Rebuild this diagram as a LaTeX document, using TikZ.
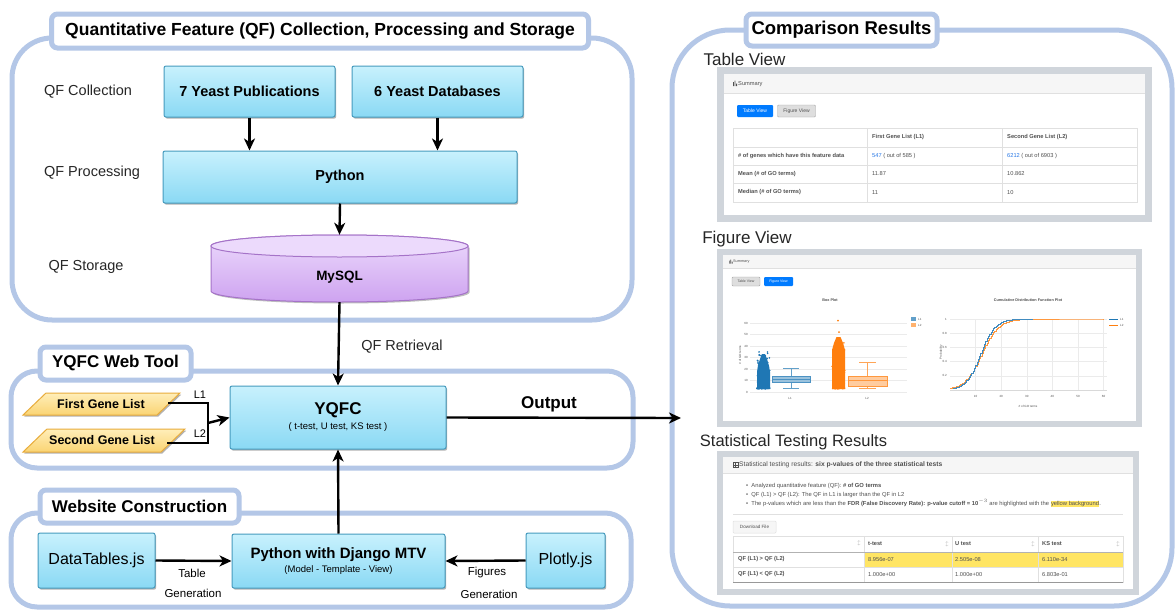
\documentclass[tikz,border=0pt]{standalone}
\usepackage{fontspec}
\setmainfont{Liberation Sans}
\usetikzlibrary{arrows.meta,shadows}
\definecolor{cbord}{RGB}{180,199,231}
\definecolor{bxtop}{RGB}{200,241,253}
\definecolor{bxbot}{RGB}{138,217,244}
\definecolor{bxdraw}{RGB}{70,155,190}
\definecolor{cyltop}{RGB}{236,218,252}
\definecolor{cylbot}{RGB}{206,163,240}
\definecolor{cyldraw}{RGB}{165,115,200}
\definecolor{ortop}{RGB}{255,238,185}
\definecolor{orbot}{RGB}{250,212,115}
\definecolor{ordraw}{RGB}{232,172,60}
\definecolor{shotframe}{RGB}{208,213,219}
\definecolor{shothead}{RGB}{246,246,246}
\definecolor{shotline}{RGB}{224,224,224}
\definecolor{shottext}{RGB}{80,80,80}
\definecolor{btnblue}{RGB}{0,123,255}
\definecolor{btngray}{RGB}{222,222,222}
\definecolor{plblue}{RGB}{31,119,180}
\definecolor{plorange}{RGB}{255,127,14}
\definecolor{hlyellow}{RGB}{255,229,100}
\definecolor{linkblue}{RGB}{40,120,230}
\begin{document}
\begin{tikzpicture}[x=1pt,y=-1pt,
  cont/.style={draw=cbord,line width=5pt},
  ttl/.style={draw=cbord,line width=5pt,fill=white,rounded corners=6pt,inner sep=0pt,font=\bfseries\fontsize{17.5}{20}\selectfont},
  bx/.style={draw=bxdraw,line width=1pt,top color=bxtop,bottom color=bxbot,rounded corners=2pt,inner sep=0pt,
    drop shadow={shadow xshift=1.2pt,shadow yshift=-1.6pt,opacity=0.3,fill=black}},
  lbl/.style={inner sep=0pt,font=\fontsize{14.5}{17}\selectfont,text=black!85},
  arr/.style={line width=2.4pt,-{Stealth[length=12pt,width=11pt,inset=3.5pt]}},
  conn/.style={line width=2.4pt},
  st/.style={inner sep=0pt,anchor=west,text=shottext,font=\fontsize{5.7}{6}\selectfont},
  stb/.style={st,font=\bfseries\fontsize{5.7}{6}\selectfont},
  sp/.style={inner sep=0pt,text=shottext,font=\fontsize{3}{3.5}\selectfont},
  shotttl/.style={inner sep=0pt,font=\fontsize{17}{20}\selectfont,text=black!85}
]
\useasboundingbox (0,0) rectangle (1176,613);
\fill[white] (0,0) rectangle (1176,613);

% ---------------- containers ----------------
\draw[cont,rounded corners=40pt] (12,38) rectangle (632,320);
\draw[cont,rounded corners=26pt] (11,371) rectangle (633,468);
\draw[cont,rounded corners=26pt] (11,513) rectangle (631,607);
\draw[cont,rounded corners=58pt] (672,30) rectangle (1172,606);

\node[ttl,minimum width=537pt,minimum height=34pt] (t1) at (320,31) {Quantitative Feature (QF) Collection, Processing and Storage};
\node[ttl,minimum width=151pt,minimum height=33pt,font=\bfseries\fontsize{17}{20}\selectfont] (t2) at (115.5,363.5) {YQFC Web Tool};
\node[ttl,minimum width=199pt,minimum height=33pt,font=\bfseries\fontsize{17}{20}\selectfont] (t3) at (139.5,506.5) {Website Construction};
\node[ttl,minimum width=191pt,minimum height=32pt,font=\bfseries\fontsize{18.5}{21}\selectfont] (t4) at (841.5,30) {Comparison Results};

% ---------------- top section ----------------
\node[lbl] (lcol) at (88,92) {QF Collection};
\node[lbl] (lpro) at (92,173) {QF Processing};
\node[lbl] (lsto) at (86,267) {QF Storage};

\node[bx,minimum width=171pt,minimum height=51pt,font=\bfseries\fontsize{14.5}{17}\selectfont] (pub) at (249.5,91.5) {7 Yeast Publications};
\node[bx,minimum width=171pt,minimum height=51pt,font=\bfseries\fontsize{14.5}{17}\selectfont] (db) at (437.5,91.5) {6 Yeast Databases};
\node[bx,minimum width=354pt,minimum height=52pt,font=\bfseries\fontsize{14.5}{17}\selectfont] (py) at (340,177) {Python};

% cylinder
\fill[black,opacity=0.25] (212.5,247.5) -- (212.5,292.5) arc[start angle=180,end angle=0,x radius=128.5,y radius=11] -- (469.5,247.5) -- cycle;
\path[draw=cyldraw,line width=1pt,top color=cyltop,bottom color=cylbot] (211,246) -- (211,291) arc[start angle=180,end angle=0,x radius=128.5,y radius=11] -- (468,246) arc[start angle=0,end angle=-180,x radius=128.5,y radius=11] -- cycle;
\draw[draw=cyldraw,line width=1pt,fill=cyltop] (339.5,246) ellipse[x radius=128.5,y radius=11];
\node[inner sep=0pt,minimum width=257pt,minimum height=67pt] (ms) at (339.5,268.5) {};
\node[inner sep=0pt,font=\bfseries\fontsize{13.5}{16}\selectfont] (mst) at (339.5,277) {MySQL};

\draw[arr] (pub.south) -- (pub.south |- py.north);
\draw[arr] (db.south) -- (db.south |- py.north);
\draw[arr] (py.south) -- (ms.north);

% ---------------- web tool ----------------
\node[bx,minimum width=216pt,minimum height=63pt,align=center] (yq) at (338,417.5)
  {{\bfseries\fontsize{17}{20}\selectfont YQFC}\\[3pt]{\fontsize{9.5}{11}\selectfont ( t-test, U test, KS test )}};
\draw[arr] (ms.south) -- (yq.north);
\node[lbl] (qfr) at (402,347) {QF Retrieval};

\draw[draw=ordraw,line width=1pt,top color=ortop,bottom color=orbot,
  drop shadow={shadow xshift=1.2pt,shadow yshift=-1.6pt,opacity=0.3,fill=black}]
  (23,415) -- (46,393) -- (180,393) -- (157,415) -- cycle;
\draw[draw=ordraw,line width=1pt,top color=ortop,bottom color=orbot,
  drop shadow={shadow xshift=1.2pt,shadow yshift=-1.6pt,opacity=0.3,fill=black}]
  (23,452) -- (47,429) -- (185,429) -- (161,452) -- cycle;
\node[inner sep=0pt,font=\bfseries\fontsize{12.5}{15}\selectfont] (fg) at (101,404) {First Gene List};
\node[inner sep=0pt,font=\bfseries\fontsize{12.5}{15}\selectfont] (sg) at (102,440.5) {Second Gene List};
\coordinate (fgR) at (168,403);
\coordinate (sgR) at (167,443);
\coordinate (jn) at (208,423);
\draw[conn,line cap=butt] (fgR) -- (fgR -| jn) -- (sgR -| jn) -- (sgR);
\draw[arr] (jn) -- (yq.west);
\node[inner sep=0pt,font=\fontsize{11}{13}\selectfont] (l1) at (200,395) {L1};
\node[inner sep=0pt,font=\fontsize{11}{13}\selectfont] (l2) at (200,434) {L2};

\coordinate (outend) at (681,418);
\draw[arr] (yq.east) -- (outend);
\node[inner sep=0pt,font=\bfseries\fontsize{17}{20}\selectfont] (outl) at (549,404) {Output};

% ---------------- website construction ----------------
\node[bx,minimum width=117pt,minimum height=55pt,font=\fontsize{16}{19}\selectfont] (dt) at (96.5,560.5) {DataTables.js};
\node[bx,minimum width=213pt,minimum height=54pt,align=center] (dj) at (338.5,561)
  {{\bfseries\fontsize{15}{18}\selectfont Python with Django MTV}\\[2pt]{\fontsize{9.5}{11}\selectfont (Model - Template - View)}};
\node[bx,minimum width=79pt,minimum height=55pt,font=\fontsize{16}{19}\selectfont] (pl) at (565.5,560.5) {Plotly.js};
\draw[arr] (dt.east) -- (dj.west);
\draw[arr] (pl.west) -- (dj.east);
\draw[arr] (dj.north) -- (yq.south);
\node[inner sep=0pt,font=\fontsize{11.5}{14}\selectfont] (tg1) at (192,573) {Table};
\node[inner sep=0pt,font=\fontsize{11.5}{14}\selectfont] (tg2) at (193,593) {Generation};
\node[inner sep=0pt,font=\fontsize{11.5}{14}\selectfont] (fg1) at (487,573) {Figures};
\node[inner sep=0pt,font=\fontsize{11.5}{14}\selectfont] (fg2) at (489,594) {Generation};

% ---------------- Table View screenshot ----------------
\node[shotttl] (tvl) at (744.5,59) {Table View};
\fill[shotframe] (717,67) rectangle (1152,222);
\fill[white] (724,74) rectangle (1145,215);
\fill[shothead] (724,74) rectangle (1145,93);
\draw[shotline,line width=0.5pt] (724,93) -- (1145,93);
\fill[shottext] (733,86) rectangle (733.8,82) (734.6,86) rectangle (735.4,80.5) (736.2,86) rectangle (737,83.5);
\node[st] (sum1) at (738,84) {Summary};
\node[fill=btnblue,text=white,inner sep=0pt,minimum width=36pt,minimum height=12pt,rounded corners=1pt,font=\fontsize{5}{6}\selectfont] (b1) at (755,111) {Table View};
\node[fill=btngray,draw=black!35,line width=0.4pt,text=shottext,inner sep=0pt,minimum width=38pt,minimum height=12pt,rounded corners=1pt,font=\fontsize{5}{6}\selectfont] (b2) at (796.5,111) {Figure View};
\draw[shotline,line width=0.5pt] (733,128) rectangle (1137,202) (733,147) -- (1137,147) (733,165) -- (1137,165) (733,183) -- (1137,183) (867,128) -- (867,202) (1002,128) -- (1002,202);
\node[stb] at (872,137.5) {First Gene List (L1)};
\node[stb] at (1007,137.5) {Second Gene List (L2)};
\node[stb] at (738,156) {\# of genes which have this feature data};
\node[st] at (872,156) {\textcolor{linkblue}{547} ( out of 585 )};
\node[st] at (1007,156) {\textcolor{linkblue}{6212} ( out of 6903 )};
\node[stb] at (738,174) {Mean (\# of GO terms)};
\node[st] at (872,174) {11.87};
\node[st] at (1007,174) {10.862};
\node[stb] at (738,192.5) {Median (\# of GO terms)};
\node[st] at (872,192.5) {11};
\node[st] at (1007,192.5) {10};

% ---------------- Figure View screenshot ----------------
\node[shotttl] (fvl) at (747,239) {Figure View};
\fill[shotframe] (717,249) rectangle (1142,427);
\fill[white] (723,255) rectangle (1136,421);
\fill[shothead] (723,255) rectangle (1136,268);
\draw[shotline,line width=0.5pt] (723,268) -- (1136,268);
\fill[shottext] (729,263.5) rectangle (729.7,260.5) (730.4,263.5) rectangle (731.1,259.5) (731.8,263.5) rectangle (732.5,261.5);
\node[st,font=\fontsize{3.8}{4}\selectfont] at (733,261.5) {Summary};
\node[fill=btngray,draw=black!35,line width=0.4pt,text=shottext,inner sep=0pt,minimum width=28pt,minimum height=9pt,rounded corners=1pt,font=\fontsize{3.5}{4}\selectfont] (b3) at (746,281.5) {Table View};
\node[fill=btnblue,text=white,inner sep=0pt,minimum width=29pt,minimum height=9pt,rounded corners=1pt,font=\fontsize{3.5}{4}\selectfont] (b4) at (778.5,281.5) {Figure View};
\node[sp,font=\bfseries\fontsize{3.8}{4}\selectfont] at (830,300) {Box Plot};
\node[sp,font=\bfseries\fontsize{3.8}{4}\selectfont] at (1028,300) {Cumulative Distribution Function Plot};
% box plot grid
\foreach \v in {0,10,...,60} {
  \draw[black!8,line width=0.4pt] (750,{392-1.15*\v}) -- (907,{392-1.15*\v});
  \node[sp,anchor=east] at (748,{392-1.15*\v}) {\v};
}
\node[sp,rotate=90] at (740,355) {\# of GO terms};
\node[sp] at (790,398) {L1};
\node[sp] at (867,398) {L2};
% L1 scatter
\fill[plblue] (757,389) -- (757,372) -- (758,365) -- (760,359) -- (762,354) -- (765,354) -- (767,359) -- (769,366) -- (770,372) -- (770,389) -- cycle;
\pgfmathsetseed{7}
\foreach \i in {1,...,120} {
  \pgfmathsetmacro\px{757+13*rnd}
  \pgfmathsetmacro\pv{3+32*rnd^3}
  \fill[plblue] (\px,{392-1.15*\pv}) circle[radius=0.9];
}
% L1 box
\draw[plblue!70,line width=0.6pt] (791,388.5) -- (791,381.6) (791,375.9) -- (791,367.9) (783,388.5) -- (799,388.5) (783,367.9) -- (799,367.9);
\draw[plblue!80,fill=plblue!45,line width=0.6pt] (772,382.5) rectangle (810,375.9);
\draw[plblue!80,line width=0.6pt] (772,379.4) -- (810,379.4);
% L2 scatter
\fill[plorange] (832,389) -- (832,350) -- (834,343) -- (836.5,337) -- (840.5,337) -- (843,343) -- (845,350) -- (845,389) -- cycle;
\foreach \i in {1,...,140} {
  \pgfmathsetmacro\px{832+13*rnd}
  \pgfmathsetmacro\pv{3+44*rnd^2.5}
  \fill[plorange] (\px,{392-1.15*\pv}) circle[radius=0.9];
}
\fill[plorange] (839,{392-1.15*52}) circle[radius=1] (838,{392-1.15*62}) circle[radius=1];
% L2 box
\draw[plorange!70,line width=0.6pt] (867.5,388.5) -- (867.5,386.3) (867.5,375.9) -- (867.5,362.1) (859,388.5) -- (876,388.5) (859,362.1) -- (876,362.1);
\draw[plorange!80,fill=plorange!40,line width=0.6pt] (848,386.3) rectangle (887,375.9);
\draw[plorange!80,line width=0.6pt] (848,380.5) -- (887,380.5);
% legend box plot
\fill[plblue!70] (911,317) rectangle (916,321);
\node[sp,anchor=west] at (918,319) {L1};
\fill[plorange!60] (911,323) rectangle (916,327);
\node[sp,anchor=west] at (918,325) {L2};
% CDF grid
\foreach \k in {1,...,6} {
  \draw[black!8,line width=0.4pt] ({950+25.6*\k},319) -- ({950+25.6*\k},390);
  \pgfmathtruncatemacro\lab{10*\k}
  \node[sp] at ({950+25.6*\k},396) {\lab};
}
\foreach \k/\t in {1/0.2,2/0.4,3/0.6,4/0.8} {
  \draw[black!8,line width=0.4pt] (950,{390-14.2*\k}) -- (1107,{390-14.2*\k});
  \node[sp,anchor=east] at (947,{390-14.2*\k}) {\t};
}
\draw[black!8,line width=0.4pt] (950,319) -- (1107,319);
\node[sp,anchor=east] at (947,319) {1};
\draw[black!15,line width=0.4pt] (950,390) -- (1107,390);
\node[sp] at (1028,406) {\# of GO terms};
\node[sp,rotate=90] at (941,352) {Probability};
\draw[plorange!80,line width=0.7pt] plot[domain=0:60,samples=121,const plot] ({950+2.56*\x},{390-71/(1+exp(-(\x-12.3)/3.3))});
\draw[plblue!85,line width=0.7pt] plot[domain=1:32,samples=63,const plot] ({950+2.56*\x},{390-71/(1+exp(-(\x-11.8)/2.8))});
\draw[plblue,line width=0.6pt] (1109,319) -- (1118,319);
\node[sp,anchor=west] at (1120,319) {L1};
\draw[plorange,line width=0.6pt] (1109,325) -- (1118,325);
\node[sp,anchor=west] at (1120,325) {L2};

% ---------------- Statistical Testing screenshot ----------------
\node[shotttl,font=\fontsize{16.5}{19}\selectfont] (stl) at (793.5,442) {Statistical Testing Results};
\fill[shotframe] (717,451) rectangle (1139,595);
\fill[white] (723,457) rectangle (1133,589);
\fill[shothead] (723,457) rectangle (1133,473);
\draw[shotline,line width=0.5pt] (723,473) -- (1133,473);
\draw[shottext,line width=0.4pt] (733,462.5) rectangle (738,467.5) (733,465) -- (738,465) (735.5,462.5) -- (735.5,467.5);
\node[st,font=\fontsize{6.7}{7}\selectfont] at (739,465) {Statistical testing results: \textbf{six p-values of the three statistical tests}};
\node[st,font=\fontsize{5.8}{6}\selectfont] at (746,486) {\textbullet\ \ Analyzed quantitative feature (QF): \textbf{\# of GO terms}};
\node[st,font=\fontsize{5.8}{6}\selectfont] at (746,494.5) {\textbullet\ \ QF (L1) > QF (L2): The QF in L1 is larger than the QF in L2};
\node[st,font=\fontsize{5.8}{6}\selectfont] at (746,503) {\textbullet\ \ The p-values which are less than the \textbf{FDR (False Discovery Rate): p-value cutoff = 10$^{-3}$} are highlighted with the {\setlength{\fboxsep}{0.4pt}\colorbox{hlyellow}{yellow background}}.};
\draw[shotline,line width=0.5pt] (733,514) -- (1123,514);
\node[fill=shothead,draw=shotline,line width=0.5pt,text=shottext,inner sep=0pt,minimum width=43pt,minimum height=12pt,rounded corners=1pt,font=\fontsize{4.6}{5}\selectfont] (dl) at (754.5,527) {Download File};
\fill[hlyellow] (864,552) rectangle (1123,567);
\draw[shotline,line width=0.5pt] (733,536) rectangle (1123,582) (733,567) -- (1123,567) (864,536) -- (864,582) (952,536) -- (952,582) (1038,536) -- (1038,582);
\draw[black!30,line width=1pt] (733,552) -- (1123,552);
\draw[black!40,line width=0.8pt] (733,582) -- (1123,582);
\node[stb] at (868,544) {t-test};
\node[stb] at (955,544) {U test};
\node[stb] at (1042,544) {KS test};
\node[sp,text=black!30] at (859,543) {$\updownarrow$};
\node[sp,text=black!30] at (947,544) {$\updownarrow$};
\node[sp,text=black!30] at (1033,544) {$\updownarrow$};
\node[sp,text=black!30] at (1118,544) {$\updownarrow$};
\node[stb] at (738,559.5) {QF (L1) > QF (L2)};
\node[st] at (868,559.5) {8.956e-07};
\node[st] at (955,559.5) {2.505e-08};
\node[st] at (1042,559.5) {6.110e-34};
\node[stb] at (738,574.5) {QF (L1) < QF (L2)};
\node[st] at (868,574.5) {1.000e+00};
\node[st] at (955,574.5) {1.000e+00};
\node[st] at (1042,574.5) {6.803e-01};
\end{tikzpicture}
\end{document}
